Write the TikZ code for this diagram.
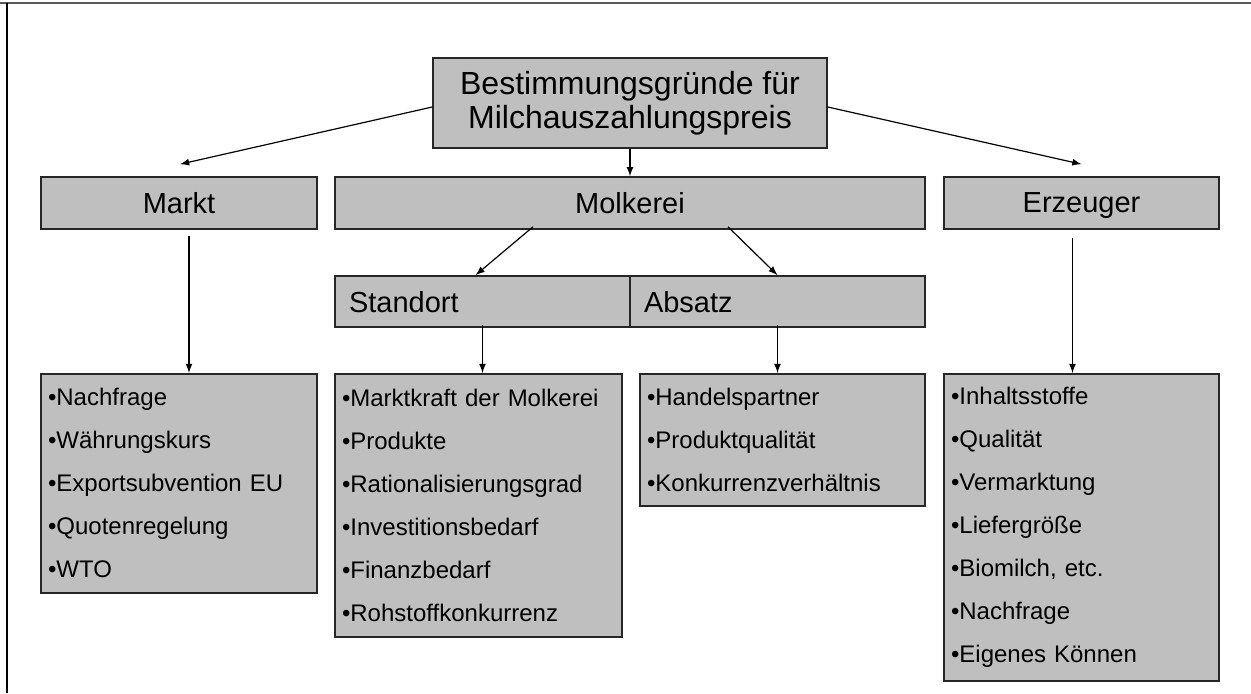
\documentclass[tikz,border=0pt]{standalone}
\usepackage{fontspec}
\setmainfont{Liberation Sans}
\usetikzlibrary{calc}

\begin{document}
\begin{tikzpicture}[
 x=0.5pt, y=-0.5pt,
 line width=0.6pt,
 >={latex},
 align=center,
 inner sep=0pt,
 head/.style={draw=black!85,fill=black!25,rectangle,line width=0.8pt,minimum width=197pt,minimum height=45pt,font=\fontsize{16}{17}\selectfont},
 cat/.style={draw=black!85,fill=black!25,rectangle,line width=0.8pt,minimum height=26pt,text depth=0pt,font=\fontsize{14.5}{17}\selectfont},
 sub/.style={cat,align=left,inner xsep=7pt,text width=133.5pt,minimum height=25.5pt},
 list/.style={draw=black!85,fill=black!25,rectangle,line width=0.8pt,anchor=north,align=left,inner xsep=3.5pt,font=\fontsize{12}{21.5}\selectfont}
]
\useasboundingbox (0,0) rectangle (1251,693);
\draw[black!65,line width=1pt] (0,3) -- (1251,3);
\draw[line width=0.9pt] (7,3) -- (7,693);
\node (title) [head] at (630,103) {Bestimmungsgründe für\\Milchauszahlungspreis};
\node (markt) [cat,minimum width=138pt] at (179,203) {Markt};
\node (molkerei) [cat,minimum width=295pt] at (630,203) {Molkerei};
\node (erzeuger) [cat,minimum width=137.5pt] at (1081.5,203) {Erzeuger};
\node (standort) [sub] at (482.5,301.5) {Standort};
\node (absatz) [sub] at (777.5,301.5) {Absatz};
\node (markt-list) [list,text width=131pt,minimum height=109.5pt] at (179,373) {•Nachfrage\\•Währungskurs\\•Exportsubvention EU\\•Quotenregelung\\•WTO};
\node (standort-list) [list,text width=136.5pt,minimum height=131.5pt] at (478.5,373) {•Marktkraft der Molkerei\\•Produkte\\•Rationalisierungsgrad\\•Investitionsbedarf\\•Finanzbedarf\\•Rohstoffkonkurrenz};
\node (absatz-list) [list,text width=135.5pt,minimum height=66pt] at (782.5,373) {•Handelspartner\\•Produktqualität\\•Konkurrenzverhältnis};
\node (erzeuger-list) [list,text width=130.5pt,minimum height=153.5pt] at (1081.5,373) {•Inhaltsstoffe\\•Qualität\\•Vermarktung\\•Liefergröße\\•Biomilch, etc.\\•Nachfrage\\•Eigenes Können};
\draw[->] ($(title.west)+(0,4)$) -- ($(markt.north)+(1,-12)$);
\draw[->] (title.south) -- (molkerei.north);
\draw[->] ($(title.east)+(0,4)$) -- ($(erzeuger.north)+(0,-12)$);
\draw[->] ($(molkerei.south)+(-97,-3)$) -- ($(standort.north)+(-7,0)$);
\draw[->] ($(molkerei.south)+(98,-3)$) -- (absatz.north);
\draw[->] ($(markt.south)+(10,6)$) -- ($(markt-list.north)+(10,0)$);
\draw[->] ($(standort.south)+(0,-3)$) -- (standort.south |- standort-list.north);
\draw[->] ($(absatz.south)+(0,-3)$) -- (absatz.south |- absatz-list.north);
\draw[->] ($(erzeuger.south)+(-9,8)$) -- ($(erzeuger-list.north)+(-9,0)$);
\end{tikzpicture}
\end{document}
